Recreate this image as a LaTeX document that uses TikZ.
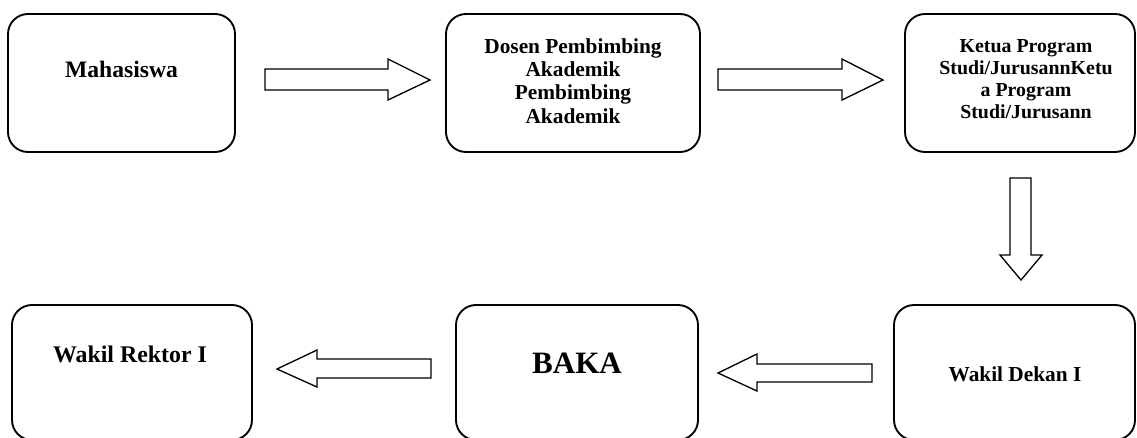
\documentclass[tikz,border=0pt]{standalone}
\usepackage{fontspec}
\setmainfont{Liberation Serif}
\usetikzlibrary{positioning}

\tikzset{
  kotak/.style={draw=black, line width=1.4pt, rounded corners=15pt, fill=white,
    minimum height=103.5pt, inner sep=0pt},
  teks/.style={anchor=base, align=center, font=\bfseries},
  panah/.style={draw=black, line width=1pt, fill=white, line join=miter}
}

\begin{document}
\begin{tikzpicture}[x=0.75pt, y=-0.75pt]
        % Bidang gambar
        \useasboundingbox (0,0) rectangle (1137,437);

        % Kotak baris atas
        \node[kotak, minimum width=170.25pt] (mhs) at (121.5,83) {};
        \node[kotak, minimum width=190.5pt] (dpa) at (573,83) {};
        \node[kotak, minimum width=172.5pt] (kaprodi) at (1020,83) {};

        % Kotak baris bawah
        \node[kotak, minimum width=180pt, minimum height=101.25pt] (warek) at (132,372.5) {};
        \node[kotak, minimum width=181.5pt, minimum height=101.25pt] (baka) at (577,372.5) {};
        \node[kotak, minimum width=180.75pt, minimum height=101.25pt] (wadek) at (1014.5,372.5) {};

        % Teks di dalam kotak (base = baris terakhir)
        \node[teks, font=\bfseries\fontsize{17.7}{20}\selectfont] (tmhs) at (121.5,77) {Mahasiswa};
        \node[teks, font=\bfseries\fontsize{16}{17.5}\selectfont] (tdpa) at (573,123)
            {Dosen Pembimbing\\Akademik\\Pembimbing\\Akademik};
        \node[teks, font=\bfseries\fontsize{14.9}{16.5}\selectfont] (tkaprodi) at (1026,118)
            {Ketua Program\\Studi/JurusannKetu\\a Program\\Studi/Jurusann};
        \node[teks, font=\bfseries\fontsize{17.9}{20}\selectfont] (twarek) at (130,362) {Wakil Rektor I};
        \node[teks, font=\bfseries\fontsize{23.3}{26}\selectfont] (tbaka) at (577,373) {BAKA};
        \node[teks, font=\bfseries\fontsize{16}{18}\selectfont] (twadek) at (1015,381) {Wakil Dekan I};

        % Panah blok ke kanan
        \draw[panah] (265,69) -- (388,69) -- (388,59) -- (430,80) -- (388,100) -- (388,90) -- (265,90) -- cycle;
        \draw[panah] (718,69) -- (842,69) -- (842,59) -- (883,80) -- (842,100) -- (842,90) -- (718,90) -- cycle;

        % Panah blok ke bawah
        \draw[panah] (1010,178) -- (1031,178) -- (1031,255) -- (1042,255) -- (1021,280) -- (1000,255) -- (1010,255) -- cycle;

        % Panah blok ke kiri
        \draw[panah] (872,364) -- (757,364) -- (757,354) -- (718,373) -- (757,391) -- (757,382) -- (872,382) -- cycle;
        \draw[panah] (431,359) -- (317,359) -- (317,350) -- (277,369) -- (317,387) -- (317,378) -- (431,378) -- cycle;
\end{tikzpicture}
\end{document}
